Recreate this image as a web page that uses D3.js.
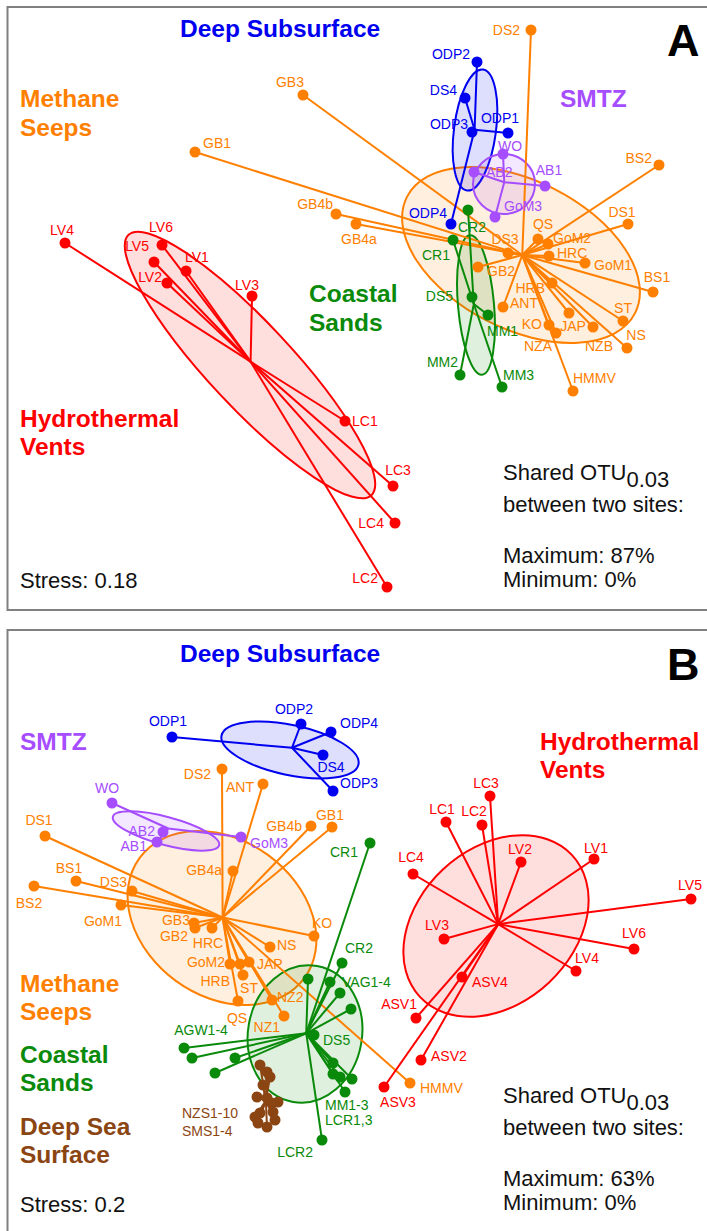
<!DOCTYPE html>
<html>
<head>
<meta charset="utf-8">
<script src="https://cdn.jsdelivr.net/npm/d3@7"></script>
<style>
  body { margin: 0; background: #fff; }
  svg { display: block; }
  text { font-family: "Liberation Sans", Arial, Helvetica, sans-serif; }
</style>
</head>
<body>
<svg id="chart" width="707" height="1231"></svg>
<script>
// ---------- NMDS site scores, panel A: [site, NMDS1, NMDS2] ----------
const ventsA = [
  ["LV4", -2.89, 0.65], ["LV6", -1.92, 0.63], ["LV5", -2.00, 0.46], ["LV1", -1.68, 0.37],
  ["LV2", -1.87, 0.25], ["LV3", -1.02, 0.12], ["LC1", -0.09, -1.13], ["LC3", 0.39, -1.78],
  ["LC4", 0.41, -2.15], ["LC2", 0.33, -2.79]
];
const seepsA = [
  ["DS2", 1.77, 2.78], ["GB3", -0.51, 2.13], ["GB1", -1.59, 1.56], ["BS2", 3.05, 1.43],
  ["GB4b", -0.18, 0.94], ["GB4a", 0.02, 0.84], ["DS1", 2.74, 0.84], ["QS", 1.84, 0.69],
  ["GoM2", 1.94, 0.64], ["DS3", 1.54, 0.55], ["HRC", 1.95, 0.52], ["GoM1", 2.31, 0.45],
  ["GB2", 1.24, 0.41], ["HRB", 1.98, 0.25], ["BS1", 2.99, 0.16], ["ANT", 1.49, 0.01],
  ["JAP", 2.15, -0.05], ["ST", 2.69, -0.13], ["KO", 1.95, -0.17], ["NZB", 2.39, -0.19],
  ["NZA", 2.02, -0.25], ["NS", 2.73, -0.40], ["HMMV", 2.19, -0.83]
];
const deepA = [
  ["ODP2", 1.23, 2.46], ["DS4", 1.11, 2.10], ["ODP3", 1.18, 1.76], ["ODP1", 1.54, 1.75], ["ODP4", 0.97, 0.84]
];
const smtzA = [
  ["WO", 1.49, 1.54], ["AB2", 1.20, 1.36], ["AB1", 1.91, 1.22], ["GoM3", 1.41, 0.91]
];
const sandsA = [
  ["CR2", 1.14, 0.98], ["CR1", 0.99, 0.68], ["DS5", 1.18, 0.11], ["MM1", 1.34, -0.07],
  ["MM2", 1.06, -0.67], ["MM3", 1.48, -0.79]
];
// group ellipses: [group, centre NMDS1, centre NMDS2, semi-axis 1, semi-axis 2, angle (deg)]
const ellipsesA = [
  ["seeps", 1.67, 0.53, 1.28, 0.74, -27],
  ["vents", -1.04, -0.57, 1.78, 0.42, -47],
  ["deep", 1.21, 1.78, 0.21, 0.61, -7.5],
  ["smtz", 1.50, 1.24, 0.31, 0.30, 0],
  ["sands", 1.22, 0.03, 0.18, 0.70, 5]
];

// ---------- NMDS site scores, panel B ----------
const deepB = [
  ["ODP1", -1.82, 1.93], ["ODP2", -0.53, 2.06], ["ODP4", -0.23, 1.98], ["DS4", -0.31, 1.75], ["ODP3", -0.21, 1.39]
];
const smtzB = [
  ["WO", -2.42, 1.27], ["AB2", -1.91, 0.98], ["AB1", -1.97, 0.88], ["GoM3", -1.13, 0.93]
];
const seepsB = [
  ["DS2", -1.32, 1.61], ["ANT", -0.91, 1.46], ["GB4b", -0.43, 1.04], ["GB1", -0.22, 1.03],
  ["GB4a", -1.21, 0.59], ["DS1", -3.09, 0.94], ["BS1", -2.78, 0.49], ["BS2", -3.20, 0.44],
  ["DS3", -2.22, 0.39], ["GoM1", -2.33, 0.25], ["GB3", -1.60, 0.07], ["GB2", -1.59, 0.02],
  ["HRC", -1.42, 0.02], ["KO", -0.40, -0.06], ["NS", -0.84, -0.17], ["GoM2", -1.24, -0.34],
  ["JAP", -1.05, -0.32], ["ST", -1.14, -0.34], ["HRB", -1.11, -0.45], ["QS", -1.16, -0.71],
  ["NZ2", -0.82, -0.70], ["NZ1", -0.70, -0.86], ["HMMV", 0.56, -1.53]
];
const sandsB = [
  ["CR1", 0.16, 0.87], ["CR2", -0.12, -0.33], ["VAG1", -0.46, -0.49], ["VAG2", -0.24, -0.52],
  ["VAG3", -0.14, -0.63], ["VAG4", -0.03, -0.79], ["DS5", -0.40, -1.05], ["AGW1", -1.70, -1.18],
  ["AGW2", -1.62, -1.28], ["AGW3", -1.19, -1.28], ["AGW4", -1.39, -1.43], ["MM1", -0.21, -1.33],
  ["MM2", -0.21, -1.44], ["MM3", -0.14, -1.47], ["LCR1", -0.02, -1.49], ["LCR3", -0.09, -1.62],
  ["LCR2", -0.32, -2.10]
];
const ventsB = [
  ["LC3", 1.36, 1.34], ["LC1", 0.92, 1.08], ["LC2", 1.28, 1.05], ["LV2", 1.67, 0.68],
  ["LV1", 2.40, 0.71], ["LC4", 0.59, 0.56], ["LV5", 3.37, 0.31], ["LV3", 0.90, -0.09],
  ["LV6", 2.80, -0.19], ["LV4", 2.22, -0.41], ["ASV4", 1.08, -0.47], ["ASV1", 0.62, -0.88],
  ["ASV2", 0.67, -1.30], ["ASV3", 0.30, -1.57]
];
const surfaceB = [
  ["NZS1", -0.94, -1.35], ["NZS2", -0.87, -1.42], ["NZS3", -0.84, -1.47], ["NZS4", -0.91, -1.55],
  ["NZS5", -0.97, -1.67], ["NZS6", -0.87, -1.68], ["NZS7", -0.76, -1.72], ["NZS8", -0.82, -1.73],
  ["NZS9", -0.94, -1.83], ["NZS10", -0.81, -1.82], ["SMS1", -0.79, -1.90], ["SMS2", -0.96, -1.93],
  ["SMS3", -0.87, -1.97], ["SMS4", -0.99, -1.87]
];
const ellipsesB = [
  ["seeps", -1.32, 0.12, 1.02, 0.78, -36],
  ["vents", 1.42, 0.04, 1.04, 0.775, 43],
  ["deep", -0.64, 1.80, 0.70, 0.25, -12],
  ["smtz", -1.88, 0.99, 0.55, 0.14, -15],
  ["sands", -0.49, -1.04, 0.57, 0.69, -10]
];

// ---------- site label placement: [site, text, dx, dy, anchor] ----------
const labelsA = [
  ["LV4","LV4",-3,-13,"middle"],["LV6","LV6",-1,-18,"middle"],["LV5","LV5",-5,-16,"end"],
  ["LV1","LV1",-1,-14,"start"],["LV2","LV2",-5,-6,"end"],["LV3","LV3",-5,-11,"middle"],
  ["LC1","LC1",7,0,"start"],["LC3","LC3",5,-16,"middle"],["LC4","LC4",-11,0,"end"],["LC2","LC2",-9,-9,"end"],
  ["GB3","GB3",-13,-13,"middle"],["GB1","GB1",8,-9,"start"],["GB4b","GB4b",-3,-10,"end"],
  ["GB4a","GB4a",3,15,"middle"],["DS2","DS2",-11,0,"end"],["BS2","BS2",-7,-7,"end"],
  ["DS1","DS1",-6,-12,"middle"],["QS","QS",5,-15,"middle"],["GoM2","GoM2",5,-6,"start"],
  ["HRC","HRC",8,-3,"start"],["GoM1","GoM1",9,2,"start"],["BS1","BS1",4,-15,"middle"],
  ["ST","ST",0,-13,"middle"],["NS","NS",9,-13,"middle"],["JAP","JAP",4,13,"middle"],
  ["NZB","NZB",6,19,"middle"],["KO","KO",-7,-1,"end"],["NZA","NZA",-4,13,"end"],
  ["HMMV","HMMV",0,-13,"start"],["HRB","HRB",-7,5,"end"],["ANT","ANT",7,-4,"start"],
  ["GB2","GB2",9,4,"start"],["DS3","DS3",-3,-14,"middle"],
  ["ODP2","ODP2",-7,-8,"end"],["DS4","DS4",-8,-8,"end"],["ODP3","ODP3",-4,-8,"end"],
  ["ODP1","ODP1",-8,-15,"middle"],["ODP4","ODP4",-4,-11,"end"],
  ["WO","WO",7,-8,"middle"],["AB2","AB2",12,0,"start"],["AB1","AB1",4,-16,"middle"],["GoM3","GoM3",9,-11,"start"],
  ["CR2","CR2",4,17,"middle"],["CR1","CR1",-3,15,"end"],["DS5","DS5",-19,-1,"end"],
  ["MM1","MM1",-1,16,"start"],["MM2","MM2",-2,-13,"end"],["MM3","MM3",1,-12,"start"]
];
const labelsB = [
  ["ODP1","ODP1",-4,-16,"middle"],["ODP2","ODP2",-7,-15,"middle"],["ODP4","ODP4",9,-9,"start"],
  ["DS4","DS4",8,12,"middle"],["ODP3","ODP3",7,-8,"start"],
  ["WO","WO",-5,-15,"middle"],["AB2","AB2",-8,-1,"end"],["AB1","AB1",-10,4,"end"],["GoM3","GoM3",9,6,"start"],
  ["DS2","DS2",-11,5,"end"],["ANT","ANT",-9,3,"end"],["GB4b","GB4b",-9,0,"end"],["GB1","GB1",-2,-12,"middle"],
  ["GB4a","GB4a",-11,-1,"end"],["DS1","DS1",-6,-16,"middle"],["BS1","BS1",-7,-13,"middle"],
  ["BS2","BS2",-5,17,"middle"],["DS3","DS3",-5,-9,"end"],["GoM1","GoM1",1,16,"end"],
  ["GB3","GB3",-4,-3,"end"],["GB2","GB2",-7,8,"end"],["HRC","HRC",-4,15,"middle"],
  ["KO","KO",8,-13,"middle"],["NS","NS",7,-2,"start"],["GoM2","GoM2",-5,-2,"end"],
  ["JAP","JAP",8,2,"start"],["HRB","HRB",-13,6,"end"],["ST","ST",9,24,"middle"],
  ["QS","QS",-1,17,"middle"],["NZ2","NZ2",5,-3,"start"],["NZ1","NZ1",-4,11,"end"],["HMMV","HMMV",10,5,"start"],
  ["CR1","CR1",-12,9,"end"],["CR2","CR2",3,-15,"start"],["VAG2","VAG1-4",12,0,"start"],
  ["DS5","DS5",9,5,"start"],["AGW1","AGW1-4",17,-18,"middle"],
  ["LCR3","MM1-3",-20,13,"start"],["LCR3","LCR1,3",-20,28,"start"],["LCR2","LCR2",-9,12,"end"],
  ["NZS9","NZS1-10",-78,0,"start"],["NZS9","SMS1-4",-78,18,"start"],
  ["LC3","LC3",-4,-13,"middle"],["LC1","LC1",-4,-13,"middle"],["LC2","LC2",-8,-14,"middle"],
  ["LV2","LV2",-1,-13,"middle"],["LV1","LV1",2,-11,"middle"],["LC4","LC4",-2,-17,"middle"],
  ["LV5","LV5",-1,-14,"middle"],["LV3","LV3",-7,-14,"middle"],["LV6","LV6",0,-16,"middle"],
  ["LV4","LV4",11,-13,"middle"],["ASV4","ASV4",10,5,"start"],["ASV1","ASV1",1,-14,"end"],
  ["ASV2","ASV2",10,-4,"start"],["ASV3","ASV3",14,15,"middle"]
];

const COLORS = {
  seeps: "#ff8000", vents: "#ff0000", deep: "#0000f0",
  smtz: "#a64dff", sands: "#0a8a0a", surface: "#8b4513"
};

const svg = d3.select("#chart");
const x = d3.scaleLinear().domain([-3.5, 3.5]).range([4, 704]);
const yA = d3.scaleLinear().domain([-3, 3]).range([608, 8]);
const yB = d3.scaleLinear().domain([-3, 3]).range([1230, 630]);

function drawPanel(frameTop, frameBottom, y, groups, ellipses, labels) {
  const g = svg.append("g");
  g.append("rect")
    .attr("x", 7.5).attr("y", frameTop)
    .attr("width", 720).attr("height", frameBottom - frameTop)
    .attr("fill", "#fff").attr("stroke", "#808080").attr("stroke-width", 2);

  const pxPerUnitX = x(1) - x(0);
  const pxPerUnitY = y(0) - y(1);

  // dispersion ellipses
  g.selectAll("ellipse.grp").data(ellipses).join("ellipse")
    .attr("class", "grp")
    .attr("cx", 0).attr("cy", 0)
    .attr("rx", d => d[3] * pxPerUnitX)
    .attr("ry", d => d[4] * pxPerUnitY)
    .attr("transform", d => `translate(${x(d[1])},${y(d[2])}) rotate(${-d[5]})`)
    .attr("fill", d => COLORS[d[0]]).attr("fill-opacity", 0.13)
    .attr("stroke", d => COLORS[d[0]]).attr("stroke-width", 2);

  // spider lines from each group centroid
  groups.forEach(([key, sites]) => {
    const cx = d3.mean(sites, d => d[1]);
    const cy = d3.mean(sites, d => d[2]);
    g.append("g").selectAll("line").data(sites).join("line")
      .attr("x1", x(cx)).attr("y1", y(cy))
      .attr("x2", d => x(d[1])).attr("y2", d => y(d[2]))
      .attr("stroke", COLORS[key]).attr("stroke-width", 2);
  });

  // site points
  const lookup = new Map();
  groups.forEach(([key, sites]) => {
    sites.forEach(s => lookup.set(s[0], { key, s }));
    g.append("g").selectAll("circle").data(sites).join("circle")
      .attr("cx", d => x(d[1])).attr("cy", d => y(d[2])).attr("r", 5.5)
      .attr("fill", COLORS[key]);
  });

  // site labels
  g.append("g").selectAll("text").data(labels).join("text")
    .attr("x", d => x(lookup.get(d[0]).s[1]) + d[2])
    .attr("y", d => y(lookup.get(d[0]).s[2]) + d[3])
    .attr("dominant-baseline", "central")
    .attr("text-anchor", d => d[4])
    .attr("font-size", 14)
    .attr("fill", d => COLORS[lookup.get(d[0]).key])
    .text(d => d[1]);
  return g;
}

function caption(g, lines, xPos, baselines, color, size, weight) {
  lines.forEach((t, i) => {
    g.append("text").attr("x", xPos).attr("y", baselines[i])
      .attr("font-size", size).attr("font-weight", weight).attr("fill", color).text(t);
  });
}

function sharedNote(g, xPos, base, maxPct) {
  const t = g.append("text").attr("x", xPos).attr("y", base).attr("font-size", 22).attr("fill", "#111");
  t.append("tspan").text("Shared OTU");
  t.append("tspan").attr("dy", 7).text("0.03");
  caption(g, ["between two sites:", `Maximum: ${maxPct}%`, "Minimum: 0%"], xPos,
    [base + 32, base + 83, base + 107], "#111", 22, "normal");
}

const BOLD = 24.5;

// ---------- Panel A ----------
const gA = drawPanel(7, 610, yA,
  [["seeps", seepsA], ["vents", ventsA], ["deep", deepA], ["smtz", smtzA], ["sands", sandsA]],
  ellipsesA, labelsA);
caption(gA, ["Deep Subsurface"], 180, [37], COLORS.deep, BOLD, "bold");
caption(gA, ["Methane", "Seeps"], 20, [107, 136], COLORS.seeps, BOLD, "bold");
caption(gA, ["SMTZ"], 560, [107], COLORS.smtz, BOLD, "bold");
caption(gA, ["Coastal", "Sands"], 309, [302, 331], COLORS.sands, BOLD, "bold");
caption(gA, ["Hydrothermal", "Vents"], 20, [427, 455], COLORS.vents, BOLD, "bold");
caption(gA, ["A"], 667, [56], "#000", 45, "bold");
caption(gA, ["Stress: 0.18"], 20, [588], "#111", 22, "normal");
sharedNote(gA, 503, 480, 87);

// ---------- Panel B ----------
const gB = drawPanel(630, 1250, yB,
  [["seeps", seepsB], ["vents", ventsB], ["deep", deepB], ["smtz", smtzB], ["sands", sandsB], ["surface", surfaceB]],
  ellipsesB, labelsB);
caption(gB, ["Deep Subsurface"], 180, [662], COLORS.deep, BOLD, "bold");
caption(gB, ["B"], 667, [680], "#000", 45, "bold");
caption(gB, ["SMTZ"], 20, [750], COLORS.smtz, BOLD, "bold");
caption(gB, ["Hydrothermal", "Vents"], 540, [750, 778], COLORS.vents, BOLD, "bold");
caption(gB, ["Methane", "Seeps"], 20, [992, 1020], COLORS.seeps, BOLD, "bold");
caption(gB, ["Coastal", "Sands"], 20, [1063, 1091], COLORS.sands, BOLD, "bold");
caption(gB, ["Deep Sea", "Surface"], 20, [1135, 1163], COLORS.surface, BOLD, "bold");
caption(gB, ["Stress: 0.2"], 20, [1212], "#111", 22, "normal");
sharedNote(gB, 503, 1103, 63);
</script>
</body>
</html>
